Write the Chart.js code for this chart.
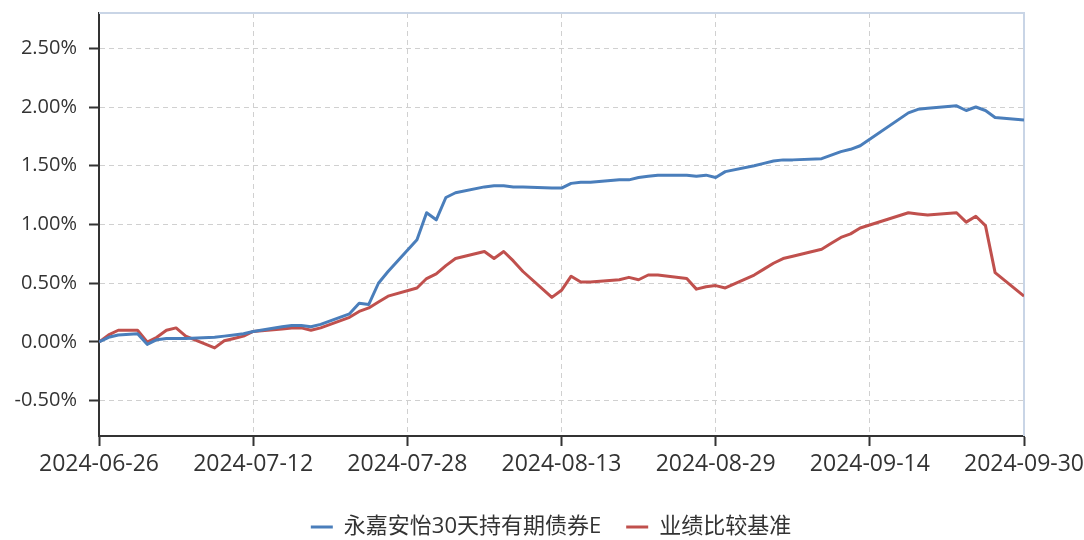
<!DOCTYPE html>
<html>
<head>
<meta charset="utf-8">
<script src="https://cdn.jsdelivr.net/npm/chart.js@4.4.1/dist/chart.umd.min.js"></script>
<style>
    html, body { margin: 0; padding: 0; background: #fff; }
    #wrap { width: 1084px; height: 540px; position: relative; }
</style>
</head>
<body>
<div id="wrap"><canvas id="navChart"></canvas></div>
<script>
// Data (cumulative return, %)
const dates = [
    '2024-06-26','2024-06-27','2024-06-28','2024-06-30',
    '2024-07-01','2024-07-02','2024-07-03','2024-07-04','2024-07-05',
    '2024-07-08','2024-07-09','2024-07-10','2024-07-11','2024-07-12',
    '2024-07-15','2024-07-16','2024-07-17','2024-07-18','2024-07-19',
    '2024-07-22','2024-07-23','2024-07-24','2024-07-25','2024-07-26',
    '2024-07-29','2024-07-30','2024-07-31','2024-08-01','2024-08-02',
    '2024-08-05','2024-08-06','2024-08-07','2024-08-08','2024-08-09',
    '2024-08-12','2024-08-13','2024-08-14','2024-08-15','2024-08-16',
    '2024-08-19','2024-08-20','2024-08-21','2024-08-22','2024-08-23',
    '2024-08-26','2024-08-27','2024-08-28','2024-08-29','2024-08-30',
    '2024-09-02','2024-09-03','2024-09-04','2024-09-05','2024-09-06',
    '2024-09-09','2024-09-10','2024-09-11','2024-09-12','2024-09-13',
    '2024-09-18','2024-09-19','2024-09-20',
    '2024-09-23','2024-09-24','2024-09-25','2024-09-26','2024-09-27',
    '2024-09-30'
];
const fundValues = [
    0.00, 0.04, 0.06, 0.07,
    -0.02, 0.02, 0.03, 0.03, 0.03,
    0.04, 0.05, 0.06, 0.07, 0.09,
    0.13, 0.14, 0.14, 0.13, 0.15,
    0.24, 0.33, 0.32, 0.50, 0.60,
    0.87, 1.10, 1.04, 1.23, 1.27,
    1.32, 1.33, 1.33, 1.32, 1.32,
    1.31, 1.31, 1.35, 1.36, 1.36,
    1.38, 1.38, 1.40, 1.41, 1.42,
    1.42, 1.41, 1.42, 1.40, 1.45,
    1.50, 1.52, 1.54, 1.55, 1.55,
    1.56, 1.59, 1.62, 1.64, 1.67,
    1.95, 1.98, 1.99,
    2.01, 1.97, 2.00, 1.97, 1.91,
    1.89
];
const benchValues = [
    0.00, 0.06, 0.10, 0.10,
    0.00, 0.04, 0.10, 0.12, 0.05,
    -0.05, 0.01, 0.03, 0.05, 0.09,
    0.11, 0.12, 0.12, 0.10, 0.12,
    0.21, 0.26, 0.29, 0.34, 0.39,
    0.46, 0.54, 0.58, 0.65, 0.71,
    0.77, 0.71, 0.77, 0.69, 0.60,
    0.38, 0.44, 0.56, 0.51, 0.51,
    0.53, 0.55, 0.53, 0.57, 0.57,
    0.54, 0.45, 0.47, 0.48, 0.46,
    0.57, 0.62, 0.67, 0.71, 0.73,
    0.79, 0.84, 0.89, 0.92, 0.97,
    1.10, 1.09, 1.08,
    1.10, 1.02, 1.07, 0.99, 0.59,
    0.39
];
const seriesNames = ['永嘉安怡30天持有期债券E', '业绩比较基准'];
const xTickLabels = ['2024-06-26','2024-07-12','2024-07-28','2024-08-13','2024-08-29','2024-09-14','2024-09-30'];
const yTickValues = [-0.5, 0, 0.5, 1.0, 1.5, 2.0, 2.5];

const DAY = 86400000;
const t0 = Date.parse(dates[0]);
const dayOf = s => Math.round((Date.parse(s) - t0) / DAY);
const toPoints = vals => dates.map((d, i) => ({ x: dayOf(d), y: vals[i] }));

const FONT = "'Open Sans', 'Noto Sans CJK SC', sans-serif";
const BLUE = '#4a7ebb';
const RED = '#c0504d';

// light frame on top / right of the plot
const frame = {
    id: 'frame',
    beforeDatasetsDraw(chart) {
        const { ctx, chartArea: a } = chart;
        ctx.save();
        ctx.strokeStyle = '#c9d5e6';
        ctx.lineWidth = 2;
        ctx.beginPath();
        ctx.moveTo(a.left, a.top);
        ctx.lineTo(a.right, a.top);
        ctx.lineTo(a.right, a.bottom);
        ctx.stroke();
        ctx.restore();
    }
};

// legend sits a little right of canvas centre in the reference
const nudgeLegend = {
    id: 'nudgeLegend',
    afterLayout(chart) {
        const l = chart.legend;
        l.left += 9; l.right += 9;
        l.top += 2; l.bottom += 2;
    }
};

new Chart(document.getElementById('navChart'), {
    type: 'line',
    data: {
        datasets: [
            { label: seriesNames[0], data: toPoints(fundValues), borderColor: BLUE, backgroundColor: BLUE },
            { label: seriesNames[1], data: toPoints(benchValues), borderColor: RED, backgroundColor: RED }
        ]
    },
    options: {
        responsive: true,
        maintainAspectRatio: false,
        animation: false,
        layout: { padding: { top: 13, right: 0, left: 0, bottom: -6 } },
        elements: {
            line: { borderWidth: 3, tension: 0, borderJoinStyle: 'round' },
            point: { radius: 0, hoverRadius: 0 }
        },
        scales: {
            x: {
                type: 'linear',
                min: 0,
                max: dayOf(dates[dates.length - 1]),
                afterBuildTicks: s => { s.ticks = xTickLabels.map(l => ({ value: dayOf(l) })); },
                afterFit: s => { s.height = 53; s.paddingLeft = 0; s.paddingRight = 60; },
                ticks: {
                    autoSkip: false,
                    maxRotation: 0,
                    padding: 5,
                    color: '#333',
                    font: { family: FONT, size: 23 },
                    callback: v => new Date(t0 + v * DAY).toISOString().slice(0, 10)
                },
                grid: { color: '#d0d0d0', tickColor: '#333', tickLength: 10, tickWidth: 2, tickBorderDash: [] },
                border: { color: '#333', width: 2, dash: [5, 4] }
            },
            y: {
                min: -0.8,
                max: 2.8,
                afterBuildTicks: s => { s.ticks = yTickValues.map(v => ({ value: v })); },
                afterFit: s => { s.width = 99; s.paddingTop = 0; s.paddingBottom = 0; },
                ticks: {
                    padding: 12,
                    color: '#333',
                    font: { family: FONT, size: 20 },
                    callback: v => v.toFixed(2) + '%'
                },
                grid: { color: '#d0d0d0', tickColor: '#333', tickLength: 10, tickWidth: 2, tickBorderDash: [] },
                border: { color: '#333', width: 2, dash: [5, 4] }
            }
        },
        plugins: {
            tooltip: { enabled: false },
            legend: {
                position: 'bottom',
                labels: {
                    boxWidth: 22,
                    boxHeight: 3,
                    padding: 25,
                    color: '#333',
                    font: { family: FONT, size: 22 },
                    generateLabels: chart => Chart.defaults.plugins.legend.labels.generateLabels(chart)
                        .map(l => ({ ...l, lineWidth: 0 }))
                }
            }
        }
    },
    plugins: [frame, nudgeLegend]
});
</script>
</body>
</html>
